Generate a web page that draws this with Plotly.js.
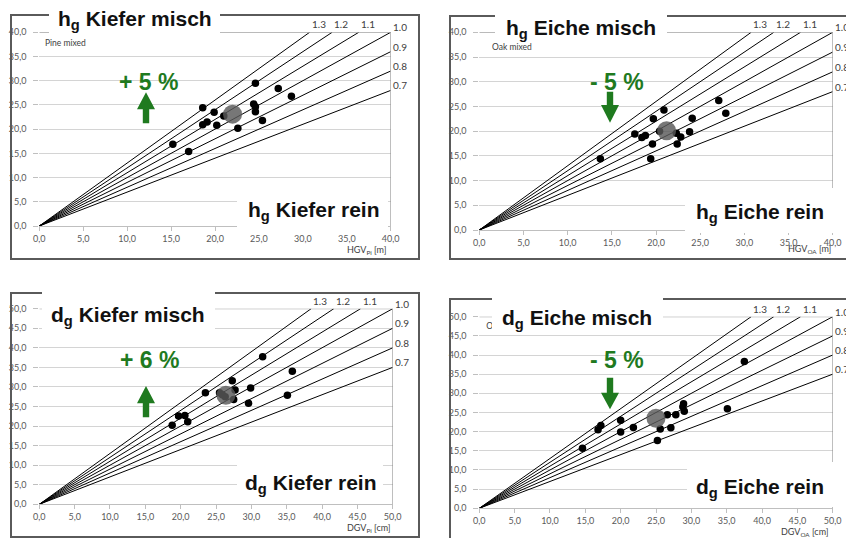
<!DOCTYPE html>
<html>
<head>
<meta charset="utf-8">
<script src="https://cdn.plot.ly/plotly-3.0.1.min.js"></script>
<style>html,body{margin:0;padding:0;background:#fff}#chart{width:846px;height:538px}</style>
</head>
<body>
<div id="chart"></div>
<script>
// ---------- data ----------
const ratios = [0.7, 0.8, 0.9, 1.0, 1.1, 1.2, 1.3];
const ratioLabels = ["0.7", "0.8", "0.9", "1.0", "1.1", "1.2", "1.3"];
const tickValsH = [0, 5, 10, 15, 20, 25, 30, 35, 40];
const tickValsD = [0, 5, 10, 15, 20, 25, 30, 35, 40, 45, 50];

const hKieferX = [15.2, 17.0, 18.6, 18.6, 19.1, 19.9, 20.2, 21.0, 22.6, 24.6, 24.4, 24.6, 24.6, 25.4, 27.2, 28.7];
const hKieferY = [16.9, 15.4, 24.4, 20.9, 21.5, 23.5, 20.8, 22.7, 20.2, 29.5, 25.2, 24.6, 23.6, 21.8, 28.4, 26.8];
const hKieferMean = [22.0, 23.1];

const hEicheX = [13.7, 17.6, 18.4, 18.8, 19.6, 19.4, 19.7, 20.4, 20.9, 22.3, 22.8, 22.4, 23.8, 24.1, 27.1, 27.9];
const hEicheY = [14.4, 19.4, 18.7, 19.1, 17.4, 14.4, 22.5, 20.0, 24.3, 19.6, 18.8, 17.4, 19.9, 22.6, 26.2, 23.6];
const hEicheMean = [21.2, 20.1];

const dKieferX = [18.8, 19.7, 20.6, 21.0, 23.5, 25.5, 25.9, 26.3, 27.3, 27.7, 27.5, 29.6, 29.9, 31.6, 35.1, 35.8];
const dKieferY = [20.2, 22.6, 22.7, 21.1, 28.5, 28.5, 28.0, 27.5, 31.6, 29.2, 26.8, 25.8, 29.7, 37.7, 27.9, 34.0];
const dKieferMean = [26.4, 27.9];

const dEicheX = [14.6, 16.8, 17.2, 20.0, 20.0, 21.8, 25.2, 25.6, 26.6, 27.1, 27.8, 28.9, 28.8, 29.0, 35.1, 37.5];
const dEicheY = [15.7, 20.5, 21.6, 23.0, 19.9, 21.1, 17.7, 20.7, 24.4, 21.0, 24.4, 27.3, 26.5, 25.3, 26.0, 38.3];
const dEicheMean = [25.0, 23.5];

const changeLabels = ["+ 5 %", "- 5 %", "+ 6 %", "- 5 %"];
const titleTop = ["h<sub>g</sub> Kiefer misch", "h<sub>g</sub> Eiche misch", "d<sub>g</sub> Kiefer misch", "d<sub>g</sub> Eiche misch"];
const titleBottom = ["h<sub>g</sub> Kiefer rein", "h<sub>g</sub> Eiche rein", "d<sub>g</sub> Kiefer rein", "d<sub>g</sub> Eiche rein"];
const axisTitles = ["HGV<sub>Pi</sub> [m]", "HGV<sub>OA</sub> [m]", "DGV<sub>Pi</sub> [cm]", "DGV<sub>OA</sub> [cm]"];
const innerLabels = ["Pine mixed", "Oak mixed", "", "Oak mixed"];

// ---------- layout helpers (pixels -> paper) ----------
const W = 846, H = 538;
const PX = p => p / W;
const PY = p => 1 - p / H;
const GREEN = '#1f7a1f';

const panels = [
  {xs: hKieferX, ys: hKieferY, mean: hKieferMean, max: 40, ticks: tickValsH,
   dom: [39.3, 390.7, 32.3, 226], frame: [11, 15, 419, 259],
   topBox: [49, 0, 220, 37], topText: [134.5, 20],
   botBox: [237, 187, 388, 233], botText: [313.5, 211],
   pct: [148, 82], arrow: {cx: 146, a: 92.3, b: 109.3, c: 123.3, up: true},
   axTitle: [388, 250], inner: [42.7, 43], innerAsTrace: false},
  {xs: hEicheX, ys: hEicheY, mean: hEicheMean, max: 40, ticks: tickValsH,
   dom: [479.3, 832.7, 32.3, 230], frame: [450, 16, 852, 259],
   topBox: [495, 0, 667, 41], topText: [580.5, 29],
   botBox: [685, 188, 833, 233], botText: [759.5, 213],
   pct: [616.7, 82], arrow: {cx: 610, a: 91.7, b: 105, c: 122.7, up: false},
   axTitle: [833, 249], inner: [490, 47.5], innerAsTrace: false},
  {xs: dKieferX, ys: dKieferY, mean: dKieferMean, max: 50, ticks: tickValsD,
   dom: [39.3, 392.7, 308.7, 504.3], frame: [11, 293, 419, 537],
   topBox: [42, 288, 215, 333], topText: [127.5, 315.5],
   botBox: [237, 459, 383, 503], botText: [311, 484],
   pct: [149, 360], arrow: {cx: 146, a: 386, b: 403.3, c: 417.3, up: true},
   axTitle: [393, 528], inner: null, innerAsTrace: false},
  {xs: dEicheX, ys: dEicheY, mean: dEicheMean, max: 50, ticks: tickValsD,
   dom: [479.3, 832.7, 316.7, 508.3], frame: [450, 299, 852, 545],
   topBox: [492, 293, 663, 333], topText: [577, 318.5],
   botBox: [687, 462, 834, 507], botText: [759.5, 488],
   pct: [617.3, 360], arrow: {cx: 610, a: 377.7, b: 392.7, c: 409.3, up: false},
   axTitle: [831, 532], inner: [490, 327], innerAsTrace: true}
];

const traces = [], shapes = [], annotations = [];
const layout = {
  width: W, height: H, margin: {l: 0, r: 0, t: 0, b: 0},
  paper_bgcolor: '#ffffff', plot_bgcolor: '#ffffff',
  separators: ',.', showlegend: false,
  font: {family: 'Lato, "Liberation Sans", sans-serif', size: 9, color: '#595959'}
};

panels.forEach((p, i) => {
  const n = i + 1;
  const xa = n === 1 ? 'x' : 'x' + n, ya = n === 1 ? 'y' : 'y' + n;
  const xk = n === 1 ? 'xaxis' : 'xaxis' + n, yk = n === 1 ? 'yaxis' : 'yaxis' + n;
  layout[xk] = {
    domain: [PX(p.dom[0]), PX(p.dom[1])], anchor: ya, range: [0, p.max],
    tickvals: p.ticks, tickformat: '.1f', showgrid: false, zeroline: false,
    showline: true, linecolor: '#bfbfbf', linewidth: 1,
    ticks: 'outside', ticklen: 4, tickcolor: '#bfbfbf',
    tickfont: {size: 9, color: '#595959'}, fixedrange: true
  };
  layout[yk] = {
    domain: [PY(p.dom[3]), PY(p.dom[2])], anchor: xa, range: [0, p.max],
    tickvals: p.ticks, tickformat: '.1f', showgrid: true, gridcolor: '#d4d4d4', gridwidth: 1,
    zeroline: false, showline: false, ticks: 'outside', ticklen: 5, tickcolor: '#bfbfbf',
    ticklabelstandoff: 5,
    tickfont: {size: 9, color: '#595959'}, fixedrange: true
  };

  // ratio lines
  const lx = [], ly = [];
  ratios.forEach(k => {
    const xe = k >= 1 ? p.max / k : p.max;
    lx.push(0, xe, null); ly.push(0, k * xe, null);
  });
  traces.push({x: lx, y: ly, xaxis: xa, yaxis: ya, mode: 'lines', type: 'scatter',
    line: {color: '#000000', width: 1}, hoverinfo: 'skip'});

  if (p.innerAsTrace) {
    traces.push({x: [1.0], y: [47.3], xaxis: xa, yaxis: ya, mode: 'text', type: 'scatter',
      text: [innerLabels[i]], textposition: 'middle right',
      textfont: {size: 8.5, color: '#404040', family: 'Lato, sans-serif'}, hoverinfo: 'skip'});
  }

  traces.push({x: p.xs, y: p.ys, xaxis: xa, yaxis: ya, mode: 'markers', type: 'scatter',
    marker: {color: '#000000', size: 7.5}, hoverinfo: 'skip'});
  traces.push({x: [p.mean[0]], y: [p.mean[1]], xaxis: xa, yaxis: ya, mode: 'markers', type: 'scatter',
    marker: {color: '#595959', size: 19, opacity: 0.82}, hoverinfo: 'skip'});

  // right border and top line of plot
  shapes.push({type: 'line', xref: xa, yref: ya, x0: p.max, x1: p.max, y0: 0, y1: p.max,
    line: {color: '#8c8c8c', width: 1}, layer: 'above'});
  shapes.push({type: 'line', xref: xa, yref: ya, x0: 0, x1: p.max, y0: p.max, y1: p.max,
    line: {color: '#8c8c8c', width: 1}, layer: 'above'});

  // frame
  shapes.push({type: 'rect', xref: 'paper', yref: 'paper',
    x0: PX(p.frame[0]), x1: PX(p.frame[2]), y0: PY(p.frame[3]), y1: PY(p.frame[1]),
    line: {color: '#5a5a5a', width: 2}, fillcolor: 'rgba(0,0,0,0)', layer: 'above'});

  // white title boxes
  [p.topBox, p.botBox].forEach(b => shapes.push({type: 'rect', xref: 'paper', yref: 'paper',
    x0: PX(b[0]), x1: PX(b[2]), y0: PY(b[3]), y1: PY(b[1]),
    line: {width: 0}, fillcolor: '#ffffff', layer: 'above'}));

  // green block arrow
  const a = p.arrow, hw = 9, sw = 3.2;
  let path;
  if (a.up) {
    path = `M ${PX(a.cx)} ${PY(a.a)} L ${PX(a.cx + hw)} ${PY(a.b)} L ${PX(a.cx + sw)} ${PY(a.b)} L ${PX(a.cx + sw)} ${PY(a.c)} L ${PX(a.cx - sw)} ${PY(a.c)} L ${PX(a.cx - sw)} ${PY(a.b)} L ${PX(a.cx - hw)} ${PY(a.b)} Z`;
  } else {
    path = `M ${PX(a.cx - sw)} ${PY(a.a)} L ${PX(a.cx + sw)} ${PY(a.a)} L ${PX(a.cx + sw)} ${PY(a.b)} L ${PX(a.cx + hw)} ${PY(a.b)} L ${PX(a.cx)} ${PY(a.c)} L ${PX(a.cx - hw)} ${PY(a.b)} L ${PX(a.cx - sw)} ${PY(a.b)} Z`;
  }
  shapes.push({type: 'path', xref: 'paper', yref: 'paper', path: path,
    fillcolor: GREEN, line: {width: 0}, layer: 'above'});

  // ratio labels
  ratios.forEach((k, j) => {
    if (k > 1) {
      annotations.push({xref: xa, yref: ya, x: p.max / k, y: p.max, text: ratioLabels[j],
        showarrow: false, xanchor: 'left', yanchor: 'bottom', xshift: 0, yshift: 0,
        font: {size: 10, color: '#404040', family: 'Lato, sans-serif'}});
    } else {
      annotations.push({xref: xa, yref: ya, x: p.max, y: k * p.max, text: ratioLabels[j],
        showarrow: false, xanchor: 'left', yanchor: 'middle', xshift: 0, yshift: 5,
        font: {size: 10, color: '#404040', family: 'Lato, sans-serif'}});
    }
  });

  if (p.inner && !p.innerAsTrace) {
    annotations.push({xref: 'paper', yref: 'paper', x: PX(p.inner[0]), y: PY(p.inner[1]),
      text: innerLabels[i], showarrow: false, xanchor: 'left', yanchor: 'middle',
      font: {size: 8.5, color: '#404040', family: 'Lato, sans-serif'}});
  }

  annotations.push({xref: 'paper', yref: 'paper', x: PX(p.axTitle[0]), y: PY(p.axTitle[1]),
    text: axisTitles[i], showarrow: false, xanchor: 'right', yanchor: 'middle',
    font: {size: 9, color: '#404040', family: 'Lato, sans-serif'}});

  const tf = {family: '"Liberation Sans", Arial, sans-serif', size: 21, color: '#111111', weight: 'bold'};
  annotations.push({xref: 'paper', yref: 'paper', x: PX(p.topText[0]), y: PY(p.topText[1]),
    text: '<b>' + titleTop[i] + '</b>', showarrow: false, xanchor: 'center', yanchor: 'middle', font: tf});
  annotations.push({xref: 'paper', yref: 'paper', x: PX(p.botText[0]), y: PY(p.botText[1]),
    text: '<b>' + titleBottom[i] + '</b>', showarrow: false, xanchor: 'center', yanchor: 'middle', font: tf});

  annotations.push({xref: 'paper', yref: 'paper', x: PX(p.pct[0]), y: PY(p.pct[1]),
    text: '<b>' + changeLabels[i] + '</b>', showarrow: false, xanchor: 'center', yanchor: 'middle',
    font: {family: '"Liberation Sans", Arial, sans-serif', size: 23, color: GREEN}});
});

layout.shapes = shapes;
layout.annotations = annotations;
Plotly.newPlot('chart', traces, layout, {staticPlot: true, displayModeBar: false});
</script>
</body>
</html>
